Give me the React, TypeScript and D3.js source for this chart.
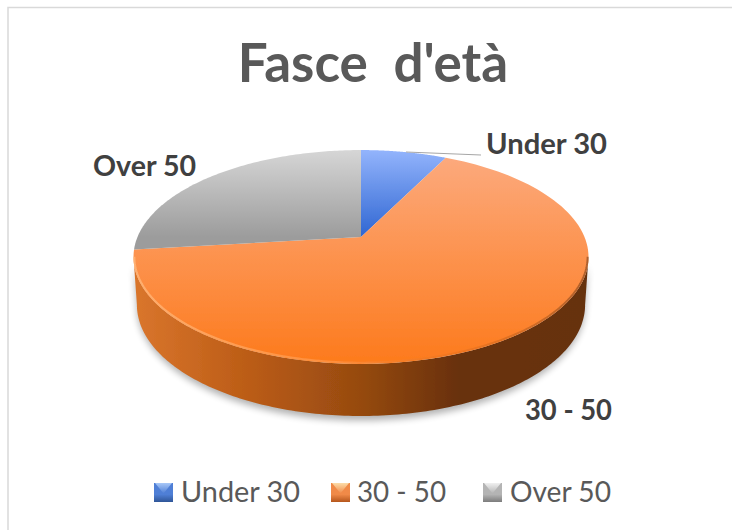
import React from "react";
import * as d3 from "d3";

const titleText = "Fasce\u00a0\u00a0d'età";
const categories = ["Under 30", "30 - 50", "Over 50"];
const values = [7.3, 65.8, 26.9];
const topStops = [
  ["#93b4fc", "#2f66d2"],
  ["#fca97c", "#fd7a1c"],
  ["#d6d6d6", "#9c9c9c"],
];
const swatchColors = [
  ["#a8c8f8", "#4f7fd6", "#2f5597"],
  ["#fcdca8", "#f08a48", "#b5561c"],
  ["#f0f0f0", "#b4b4b4", "#7c7c7c"],
];
const sideStops: [number, string][] = [
  [0, "#d9752c"],
  [0.25, "#bb5c16"],
  [0.5, "#964a10"],
  [0.72, "#68300c"],
  [1, "#66300f"],
];

const W = 732;
const H = 530;
const cx = 361;
const apexY = 237;
const a = 223.5;
const b = 103.2;
const k = 0.187;

const project = (theta: number, scaleX = 1, scaleY = 1, dy = 0): [number, number] => {
  const u = Math.sin(theta);
  const v = -Math.cos(theta);
  const d = 1 - k * v;
  return [cx + (scaleX * a * u) / d, apexY + dy + (scaleY * b * v) / d];
};

const arcs = d3.pie<number>().sort(null)(values);
const line = d3.line();

const slicePath = (start: number, end: number) => {
  const steps = d3.range(0, 121).map((i) => start + ((end - start) * i) / 120);
  return line([[cx, apexY], ...steps.map((t) => project(t))]) + "Z";
};
// the wall spans the front half of the rim, between the disc's widest points
const thetaExtreme = Math.acos(-k);
const frontSteps = d3.range(0, 181).map((i) => thetaExtreme + ((2 * Math.PI - 2 * thetaExtreme) * i) / 180);
const wallPts = [
  ...frontSteps.map((t) => project(t)),
  ...frontSteps.slice().reverse().map((t) => project(t, 0.985, 1.04, 47)),
] as [number, number][];
const wallPath = line(wallPts) + "Z";
const shadowPath = line(frontSteps.map((t) => project(t, 0.985, 1.06, 49)).concat(frontSteps.slice().reverse().map((t) => project(t)))) + "Z";
const rimPath = line(frontSteps.map((t) => project(t, 0.996, 0.99, 0)));

const legendX = [154, 331, 483];
const legendTextX = [181, 357, 510];
const legendTextLen = [119, 89, 101];

export default function App() {
  return (
    <svg
      width={W}
      height={H}
      viewBox={`0 0 ${W} ${H}`}
      style={{ position: "absolute", left: 0, top: 0, background: "#fff" }}
      fontFamily="Lato, 'Open Sans', sans-serif"
    >
      <defs>
        <filter id="soft" x="-5%" y="-5%" width="110%" height="110%">
          <feGaussianBlur stdDeviation="3.5" />
        </filter>
        <filter id="edge" x="-2%" y="-2%" width="104%" height="104%">
          <feGaussianBlur stdDeviation="0.6" />
        </filter>
        <linearGradient id="side" gradientUnits="userSpaceOnUse" x1={137} x2={585} y1={0} y2={0}>
          {sideStops.map(([o, c]) => (
            <stop key={o} offset={o} stopColor={c} />
          ))}
        </linearGradient>
        <linearGradient id="rim" gradientUnits="userSpaceOnUse" x1={134} x2={589} y1={0} y2={0}>
          <stop offset={0} stopColor="#ffb77a" stopOpacity={0.8} />
          <stop offset={0.45} stopColor="#ffa25a" stopOpacity={0.5} />
          <stop offset={0.7} stopColor="#d86a1c" stopOpacity={0.3} />
          <stop offset={1} stopColor="#8a4a20" stopOpacity={0.7} />
        </linearGradient>
        {categories.map((c, i) => (
          <linearGradient
            key={c}
            id={`top${i}`}
            gradientUnits="userSpaceOnUse"
            x1={0}
            x2={0}
            y1={i === 1 ? 158 : 150}
            y2={i === 1 ? 364 : 237}
          >
            <stop offset={0} stopColor={topStops[i][0]} />
            <stop offset={1} stopColor={topStops[i][1]} />
          </linearGradient>
        ))}
        {categories.map((c, i) => (
          <linearGradient key={c} id={`sw${i}`} x1={0} x2={0} y1={0} y2={1}>
            <stop offset={0} stopColor={swatchColors[i][1]} />
            <stop offset={0.6} stopColor={swatchColors[i][1]} />
            <stop offset={1} stopColor={swatchColors[i][2]} />
          </linearGradient>
        ))}
        {categories.map((c, i) => (
          <linearGradient key={c} id={`swt${i}`} x1={0} x2={0} y1={0} y2={1}>
            <stop offset={0} stopColor={swatchColors[i][0]} />
            <stop offset={1} stopColor={swatchColors[i][1]} />
          </linearGradient>
        ))}
      </defs>

      <path d={`M8 ${H}V7.5H${W}`} fill="none" stroke="#d9d9d9" strokeWidth={1.5} />

      <text x={373} y={82} textAnchor="middle" fontSize={53} fontWeight={700} fill="#595959">
        {titleText}
      </text>

      <path d={shadowPath} fill="#000" opacity={0.3} filter="url(#soft)" />
      <path d={wallPath} fill="url(#side)" filter="url(#edge)" />
      <g filter="url(#edge)">
        {arcs.map((d, i) => (
          <path key={i} d={slicePath(d.startAngle, d.endAngle)} fill={`url(#top${i})`} />
        ))}
        <path d={rimPath ?? ""} fill="none" stroke="url(#rim)" strokeWidth={2} />
      </g>

      <line x1={406} y1={152} x2={481} y2={155} stroke="#a6a6a6" strokeWidth={1.2} />

      <g fontSize={29} fontWeight={700} fill="#404040">
        <text x={486} y={154} textLength={121} lengthAdjust="spacingAndGlyphs">{categories[0]}</text>
        <text x={525} y={420} textLength={87} lengthAdjust="spacingAndGlyphs">{categories[1]}</text>
        <text x={93} y={176} textLength={103} lengthAdjust="spacingAndGlyphs">{categories[2]}</text>
      </g>

      {categories.map((c, i) => {
        const x = legendX[i];
        const y = 483;
        const s = 19;
        return (
          <g key={c}>
            <rect x={x} y={y} width={s} height={s} fill={`url(#sw${i})`} />
            <path d={`M${x + 1} ${y}H${x + s - 1}L${x + s / 2} ${y + s / 2 + 1}Z`} fill={`url(#swt${i})`} />
            <text x={legendTextX[i]} y={502} fontSize={29} fill="#595959" textLength={legendTextLen[i]} lengthAdjust="spacingAndGlyphs">
              {c}
            </text>
          </g>
        );
      })}
    </svg>
  );
}
